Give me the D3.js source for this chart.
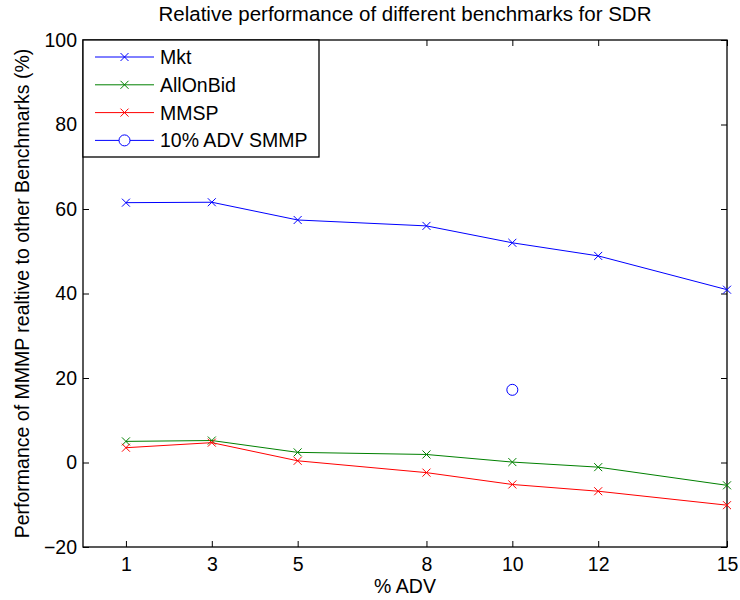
<!DOCTYPE html>
<html>
<head>
  <meta charset="utf-8">
  <title>Relative performance</title>
  <script src="https://d3js.org/d3.v7.min.js"></script>
  <style>
    body { margin: 0; background: #fff; }
    text { font-family: "Liberation Sans", Arial, Helvetica, sans-serif; }
  </style>
</head>
<body>
  <div id="chart"></div>
  <script>
    // data
    var advLevels = [1, 3, 5, 8, 10, 12, 15];
    var mkt      = [61.5, 61.6, 57.4, 56.0, 52.0, 48.9, 40.9];
    var allOnBid = [5.0, 5.2, 2.4, 1.9, 0.1, -1.1, -5.4];
    var mmsp     = [3.5, 4.7, 0.4, -2.4, -5.2, -6.8, -10.1];
    var smmpPoint = { adv: 10, value: 17.2 };
    var yTicks = [-20, 0, 20, 40, 60, 80, 100];

    var series = [
      { name: 'Mkt', values: mkt, color: '#0000ff' },
      { name: 'AllOnBid', values: allOnBid, color: '#008000' },
      { name: 'MMSP', values: mmsp, color: '#ff0000' }
    ];

    var width = 740, height = 600;
    var margin = { top: 40, right: 13, bottom: 53, left: 83 };
    var fontSize = '19.5px';

    var x = d3.scaleLinear().domain([0, 15]).range([margin.left, width - margin.right]);
    var y = d3.scaleLinear().domain([-20, 100]).range([height - margin.bottom, margin.top]);

    var svg = d3.select('#chart').append('svg')
      .attr('width', width)
      .attr('height', height);

    // axes, ticks pointing inward
    svg.append('g')
      .attr('transform', 'translate(0,' + y(-20) + ')')
      .call(d3.axisBottom(x).tickValues(advLevels).tickSizeInner(-6).tickSizeOuter(0).tickPadding(10));
    svg.append('g')
      .attr('transform', 'translate(' + x(0) + ',0)')
      .call(d3.axisLeft(y).tickValues(yTicks).tickSizeInner(-6).tickSizeOuter(0).tickPadding(6)
        .tickFormat(function (d) { return d < 0 ? '\u2212' + Math.abs(d) : d; }));
    // mirrored ticks top and right
    svg.append('g')
      .attr('transform', 'translate(0,' + y(100) + ')')
      .call(d3.axisTop(x).tickValues(advLevels).tickSizeInner(-6).tickSizeOuter(0).tickFormat(''));
    svg.append('g')
      .attr('transform', 'translate(' + x(15) + ',0)')
      .call(d3.axisRight(y).tickValues(yTicks).tickSizeInner(-6).tickSizeOuter(0).tickFormat(''));

    svg.selectAll('.domain').remove();
    svg.selectAll('.tick line').attr('stroke', '#000');
    svg.selectAll('.tick text').style('font-size', fontSize).attr('fill', '#000');

    // box
    svg.append('rect')
      .attr('x', x(0)).attr('y', y(100))
      .attr('width', x(15) - x(0)).attr('height', y(-20) - y(100))
      .attr('fill', 'none').attr('stroke', '#000').attr('stroke-width', 1.3);

    var line = d3.line()
      .x(function (d, i) { return x(advLevels[i]); })
      .y(function (d) { return y(d); });

    function cross(g, cx, cy, color) {
      var s = 4;
      g.append('path')
        .attr('d', 'M' + (cx - s) + ',' + (cy - s) + 'L' + (cx + s) + ',' + (cy + s) +
                   'M' + (cx - s) + ',' + (cy + s) + 'L' + (cx + s) + ',' + (cy - s))
        .attr('stroke', color).attr('stroke-width', 1).attr('fill', 'none');
    }

    series.forEach(function (s) {
      svg.append('path')
        .datum(s.values)
        .attr('d', line)
        .attr('fill', 'none')
        .attr('stroke', s.color)
        .attr('stroke-width', 1);
      var g = svg.append('g');
      s.values.forEach(function (v, i) { cross(g, x(advLevels[i]), y(v), s.color); });
    });

    svg.append('circle')
      .attr('cx', x(smmpPoint.adv)).attr('cy', y(smmpPoint.value))
      .attr('r', 5.5)
      .attr('fill', 'none').attr('stroke', '#0000ff').attr('stroke-width', 1);

    // legend
    var legend = svg.append('g');
    legend.append('rect')
      .attr('x', x(0)).attr('y', y(100))
      .attr('width', 236).attr('height', 117)
      .attr('fill', '#fff').attr('stroke', '#000').attr('stroke-width', 1.3);
    var legendItems = series.map(function (s) { return { name: s.name, color: s.color, marker: 'x' }; });
    legendItems.push({ name: '10% ADV SMMP', color: '#0000ff', marker: 'o' });
    legendItems.forEach(function (d, i) {
      var ly = 57 + i * 27.8;
      legend.append('line')
        .attr('x1', 95).attr('x2', 154).attr('y1', ly).attr('y2', ly)
        .attr('stroke', d.color).attr('stroke-width', 1);
      if (d.marker === 'x') {
        cross(legend, 124.5, ly, d.color);
      } else {
        legend.append('circle').attr('cx', 124.5).attr('cy', ly).attr('r', 5.5)
          .attr('fill', '#fff').attr('stroke', d.color).attr('stroke-width', 1);
      }
      legend.append('text')
        .attr('x', 160).attr('y', ly + 7)
        .style('font-size', fontSize)
        .text(d.name);
    });

    // title and axis labels
    svg.append('text')
      .attr('x', (x(0) + x(15)) / 2).attr('y', 21)
      .attr('text-anchor', 'middle')
      .style('font-size', '20.5px')
      .text('Relative performance of different benchmarks for SDR');
    svg.append('text')
      .attr('x', (x(0) + x(15)) / 2).attr('y', 593)
      .attr('text-anchor', 'middle')
      .style('font-size', fontSize)
      .text('% ADV');
    svg.append('text')
      .attr('transform', 'translate(29,' + ((y(100) + y(-20)) / 2) + ') rotate(-90)')
      .attr('text-anchor', 'middle')
      .style('font-size', fontSize)
      .text('Performance of MMMP realtive to other Benchmarks (%)');
  </script>
</body>
</html>
